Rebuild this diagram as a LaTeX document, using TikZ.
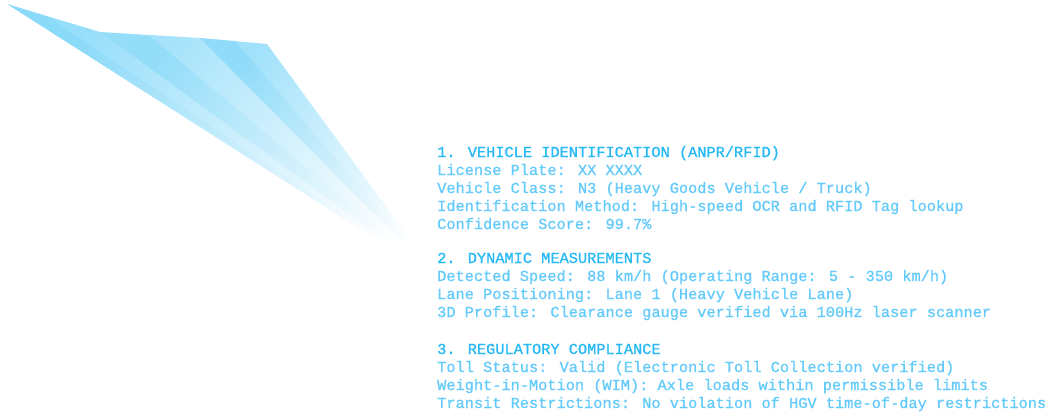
\documentclass[tikz,border=0pt]{standalone}
\usepackage{fontspec}
\newfontfamily\readoutfont{Liberation Mono}[FakeBold=1]
\definecolor{beamdark}{RGB}{150,222,250}
\definecolor{beamstreak}{RGB}{120,212,248}
\definecolor{headcol}{RGB}{40,185,245}
\definecolor{bodycol}{RGB}{100,202,250}
\tikzset{
  beam/.style={top color=#1, bottom color=white, shading angle=50},
  streak/.style={top color=beamstreak, bottom color=white, shading angle=50, fill opacity=0.4},
  readout/.style={anchor=base west, inner sep=0pt, align=left, text=bodycol,
    font=\readoutfont\fontsize{15.3}{18}\selectfont},
  heading/.style={text=headcol}
}
\begin{document}
\begin{tikzpicture}[x=1pt,y=-1pt]
  \useasboundingbox (0,0) rectangle (1049,420);
  \coordinate (apex) at (440,280);
  \begin{scope}
    \shade[beam=beamdark] (apex) -- (7,4) -- (100,32) -- cycle;
    \shade[beam=beamdark!85!white] (apex) -- (100,32) -- (200,38) -- cycle;
    \shade[beam=beamdark!90!white] (apex) -- (200,38) -- (267,44) -- cycle;
    \shade[streak] (apex) -- (100,32) -- (150,36) -- cycle;
    \shade[streak] (apex) -- (200,38) -- (235,41) -- cycle;
    \shade[streak] (apex) -- (7,4) -- (50,18) -- cycle;
  \end{scope}
  \draw
    (437,229) node[readout] (ident){{\color{headcol}1. VEHICLE IDENTIFICATION (ANPR/RFID)}\\
      License Plate: XX XXXX\\
      Vehicle Class: N3 (Heavy Goods Vehicle / Truck)\\
      Identification Method: High-speed OCR and RFID Tag lookup\\
      Confidence Score: 99.7\%}
    (437,317) node[readout] (dynamics){{\color{headcol}2. DYNAMIC MEASUREMENTS}\\
      Detected Speed: 88 km/h (Operating Range: 5 - 350 km/h)\\
      Lane Positioning: Lane 1 (Heavy Vehicle Lane)\\
      3D Profile: Clearance gauge verified via 100Hz laser scanner}
    (437,408) node[readout] (compliance){{\color{headcol}3. REGULATORY COMPLIANCE}\\
      Toll Status: Valid (Electronic Toll Collection verified)\\
      Weight-in-Motion (WIM): Axle loads within permissible limits\\
      Transit Restrictions: No violation of HGV time-of-day restrictions};
\end{tikzpicture}
\end{document}
